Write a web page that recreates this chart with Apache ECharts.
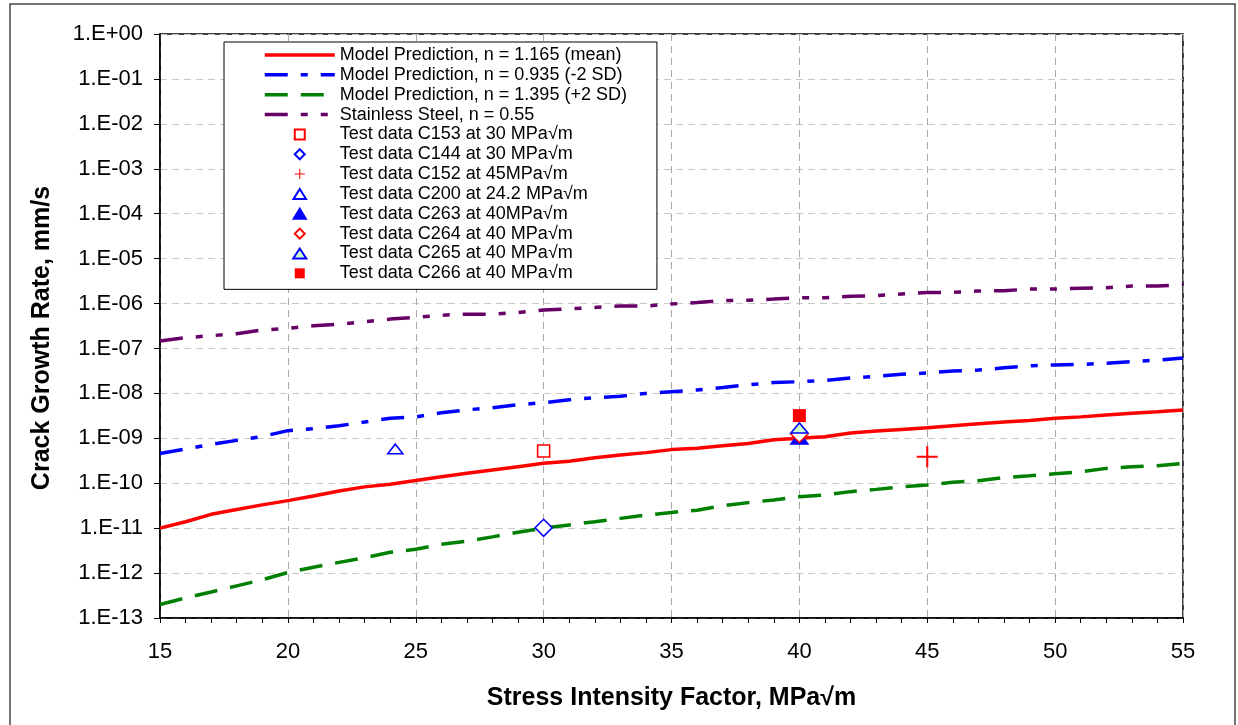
<!DOCTYPE html>
<html>
<head>
<meta charset="utf-8">
<script src="https://cdn.jsdelivr.net/npm/echarts@6/dist/echarts.min.js"></script>
<style>
html,body{margin:0;padding:0;background:#fff;}
#chart{width:1238px;height:725px;}
</style>
</head>
<body>
<div id="chart"></div>
<script>
// ---- data ----
const kValues = [15,16,17,18,19,20,21,22,23,24,25,26,27,28,29,30,31,32,33,34,35,36,37,38,39,40,41,42,43,44,45,46,47,48,49,50,51,52,53,54,55];
const meanRate = [1.0e-11,1.39e-11,2.03e-11,2.6e-11,3.3e-11,4.1e-11,5.2e-11,6.7e-11,8.3e-11,9.5e-11,1.15e-10,1.4e-10,1.66e-10,1.97e-10,2.34e-10,2.77e-10,3.1e-10,3.7e-10,4.25e-10,4.8e-10,5.6e-10,6.0e-10,6.8e-10,7.7e-10,9.3e-10,1.0e-9,1.08e-9,1.31e-9,1.45e-9,1.58e-9,1.72e-9,1.9e-9,2.1e-9,2.3e-9,2.5e-9,2.78e-9,3.0e-9,3.3e-9,3.6e-9,3.9e-9,4.26e-9];
const minus2SDRate = [4.6e-10,5.8e-10,7.3e-10,9.0e-10,1.1e-9,1.48e-9,1.64e-9,1.9e-9,2.3e-9,2.8e-9,3.0e-9,3.7e-9,4.3e-9,4.8e-9,5.6e-9,6.2e-9,7.2e-9,8.0e-9,8.6e-9,1.0e-8,1.09e-8,1.19e-8,1.35e-8,1.55e-8,1.74e-8,1.82e-8,1.95e-8,2.2e-8,2.4e-8,2.66e-8,2.84e-8,3.15e-8,3.3e-8,3.7e-8,4.1e-8,4.3e-8,4.4e-8,4.7e-8,5.1e-8,5.5e-8,6.1e-8];
const plus2SDRate = [2.0e-13,2.8e-13,3.8e-13,5.2e-13,7.1e-13,1.03e-12,1.35e-12,1.73e-12,2.2e-12,2.9e-12,3.4e-12,4.4e-12,5.1e-12,6.4e-12,8.1e-12,1.0e-11,1.18e-11,1.39e-11,1.65e-11,1.95e-11,2.24e-11,2.5e-11,3.15e-11,3.7e-11,4.25e-11,5.0e-11,5.5e-11,6.5e-11,7.3e-11,8.3e-11,9.1e-11,1.05e-10,1.14e-10,1.33e-10,1.47e-10,1.63e-10,1.8e-10,2.14e-10,2.34e-10,2.45e-10,2.77e-10];
const stainlessRate = [1.47e-7,1.74e-7,1.92e-7,2.13e-7,2.57e-7,2.8e-7,3.2e-7,3.45e-7,3.95e-7,4.5e-7,4.9e-7,5.5e-7,5.8e-7,5.8e-7,6.3e-7,7.2e-7,7.6e-7,8.2e-7,8.8e-7,8.8e-7,9.8e-7,1.05e-6,1.16e-6,1.18e-6,1.26e-6,1.35e-6,1.35e-6,1.45e-6,1.5e-6,1.63e-6,1.75e-6,1.77e-6,1.9e-6,1.93e-6,2.1e-6,2.1e-6,2.2e-6,2.25e-6,2.45e-6,2.45e-6,2.63e-6];

const lineNames = [
  'Model Prediction, n = 1.165 (mean)',
  'Model Prediction, n = 0.935 (-2 SD)',
  'Model Prediction, n = 1.395 (+2 SD)',
  'Stainless Steel, n = 0.55'
];
const testNames = [
  'Test data C153 at 30 MPa\u221Am',
  'Test data C144 at 30 MPa\u221Am',
  'Test data C152 at 45MPa\u221Am',
  'Test data C200 at 24.2 MPa\u221Am',
  'Test data C263 at 40MPa\u221Am',
  'Test data C264 at 40 MPa\u221Am',
  'Test data C265 at 40 MPa\u221Am',
  'Test data C266 at 40 MPa\u221Am'
];
const testK = [30, 30, 45, 24.2, 40, 40, 40, 40];
const testRate = [5.2e-10, 1.02e-11, 3.9e-10, 5.8e-10, 1.0e-9, 1.25e-9, 1.7e-9, 3.2e-9];

const yTickLabels = ['1.E-13','1.E-12','1.E-11','1.E-10','1.E-09','1.E-08','1.E-07','1.E-06','1.E-05','1.E-04','1.E-03','1.E-02','1.E-01','1.E+00'];
const xTitle = 'Stress Intensity Factor, MPa\u221Am';
const yTitle = 'Crack Growth Rate, mm/s';

// ---- build ----
const FONT = "'Liberation Sans', Arial, sans-serif";
function pairs(ys){ return kValues.map((k,i)=>[k, ys[i]]); }

const lineDefs = [
  {data: meanRate, color: '#FF0000', dash: 'solid'},
  {data: minus2SDRate, color: '#0000FF', dash: [23,13,7,13]},
  {data: plus2SDRate, color: '#008000', dash: [23,13]},
  {data: stainlessRate, color: '#660066', dash: [23,13,7,13,7,13]}
];
const SQ = 'path://M0,0H10V10H0Z';
const DIA = 'path://M5,0L10,5L5,10L0,5Z';
const PLUS = 'path://M0,9H20V11H0ZM9,0H11V20H9Z';
const markerDefs = [
  {symbol: SQ, size: 12, fill: '#fff', stroke: '#FF0000'},
  {symbol: DIA, size: 17, fill: '#fff', stroke: '#0000FF'},
  {symbol: PLUS, size: 21, fill: '#FF0000', stroke: '#FF0000', bw: 0},
  {symbol: 'path://M7.5,0L15,12H0Z', size: [15,12], fill: '#fff', stroke: '#0000FF'},
  {symbol: 'path://M8.5,0L17,14H0Z', size: [17,14], fill: '#0000FF', stroke: '#0000FF'},
  {symbol: DIA, size: 17, fill: '#fff', stroke: '#FF0000'},
  {symbol: 'path://M8.5,0L17,13H0Z', size: [17,13], fill: '#CCFFCC', stroke: '#0000FF'},
  {symbol: SQ, size: 13, fill: '#FF0000', stroke: '#FF0000', bw: 0}
];

const series = [];
lineDefs.forEach((d,i)=>{
  series.push({
    name: lineNames[i], type: 'line', data: pairs(d.data),
    symbol: 'none', showSymbol: false, smooth: false,
    lineStyle: {color: d.color, width: 3.5, type: d.dash},
    itemStyle: {color: d.color},
    emphasis: {disabled: true}, silent: true, z: 2
  });
});
markerDefs.forEach((m,i)=>{
  series.push({
    name: testNames[i], type: 'scatter',
    data: [[testK[i], testRate[i]]],
    symbol: m.symbol, symbolSize: m.size, symbolKeepAspect: true,
    itemStyle: {color: m.fill, borderColor: m.stroke, borderWidth: m.bw === undefined ? 1.6 : m.bw, opacity: 1},
    emphasis: {disabled: true}, silent: true, z: 3
  });
});

const legendData = lineNames.map(n => ({
  name: n,
  itemStyle: {color: 'rgba(0,0,0,0)', borderColor: 'rgba(0,0,0,0)', borderWidth: 0, opacity: 0}
})).concat(testNames.map(n => ({name: n})));

const chart = echarts.init(document.getElementById('chart'), null, {renderer: 'canvas'});
chart.setOption({
  animation: false,
  backgroundColor: '#fff',
  textStyle: {fontFamily: FONT},
  grid: {left: 160, right: 55, top: 34, bottom: 107, show: true, borderColor: '#000', borderWidth: 1.5, backgroundColor: '#fff'},
  xAxis: {
    type: 'value', min: 15, max: 55, interval: 5,
    name: xTitle, nameLocation: 'middle', nameGap: 68,
    nameTextStyle: {fontFamily: FONT, fontSize: 25, fontWeight: 'bold', color: '#000'},
    axisLine: {show: true, onZero: false, lineStyle: {color: '#000', width: 1.5}},
    axisTick: {show: true, inside: false, length: 5, lineStyle: {color: '#000', width: 1}},
    minorTick: {show: true, splitNumber: 5, length: 5, lineStyle: {color: '#000', width: 1}},
    axisLabel: {fontFamily: FONT, fontSize: 22, color: '#000', margin: 23},
    splitLine: {show: true, lineStyle: {color: '#a8a8a8', width: 1, type: [7,5]}}
  },
  yAxis: {
    type: 'log', logBase: 10, min: 1e-13, max: 1, interval: 1,
    axisLine: {show: true, onZero: false, lineStyle: {color: '#000', width: 1.5}},
    axisTick: {show: true, inside: false, length: 6, lineStyle: {color: '#000', width: 1}},
    axisLabel: {
      fontFamily: FONT, fontSize: 22, color: '#000', margin: 17,
      formatter: function(v){
        const e = Math.round(Math.log10(v));
        return yTickLabels[e + 13];
      }
    },
    splitLine: {show: true, lineStyle: {color: '#c8c8c8', width: 1, type: [7,5]}}
  },
  legend: {
    show: true, orient: 'vertical', left: 224, top: 42,
    itemWidth: 70, itemHeight: 10, itemGap: 1.85,
    symbolKeepAspect: true,
    padding: [4, 30, 7, 39],
    backgroundColor: '#fff', borderColor: '#000', borderWidth: 1, borderRadius: 0,
    lineStyle: {width: 3.5},
    textStyle: {fontFamily: FONT, fontSize: 18, color: '#000'},
    selectedMode: false,
    data: legendData
  },
  graphic: [
    {type: 'rect', shape: {x: 10, y: 4, width: 1225, height: 760}, style: {fill: null, stroke: '#444', lineWidth: 1.5}, silent: true, z: 100},
    {type: 'text', x: 42, y: 338, rotation: Math.PI/2, style: {text: yTitle, font: "bold 25px 'Liberation Sans', Arial, sans-serif", fill: '#000', textAlign: 'center', textVerticalAlign: 'middle'}, silent: true}
  ],
  series: series
});
</script>
</body>
</html>
